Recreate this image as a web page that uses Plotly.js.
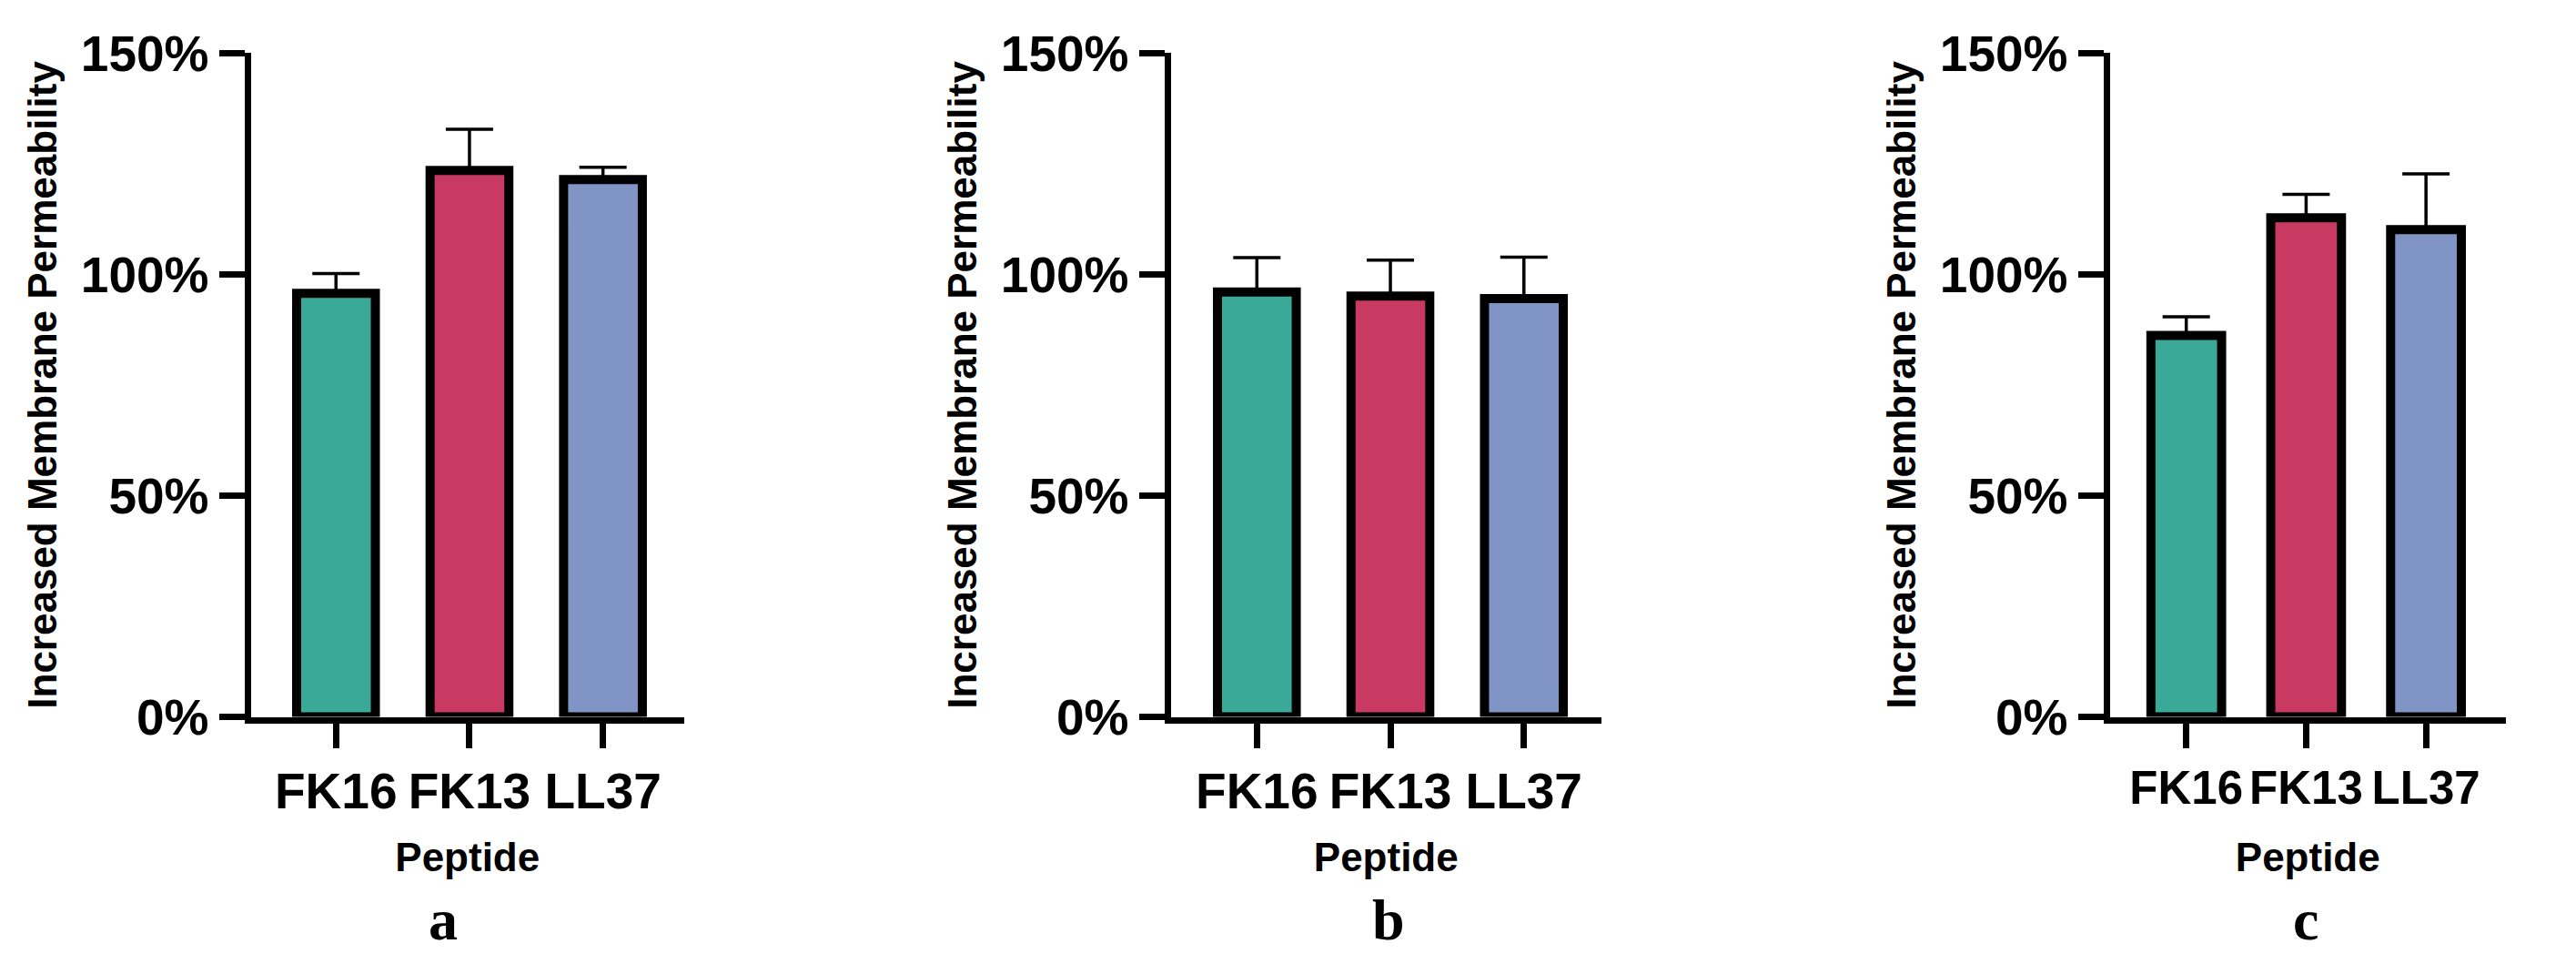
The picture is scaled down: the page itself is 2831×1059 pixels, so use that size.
<!DOCTYPE html>
<html>
<head>
<meta charset="utf-8">
<script src="https://cdn.plot.ly/plotly-3.0.1.min.js"></script>
<style>html,body{margin:0;padding:0;background:#fff;}#chart{width:2831px;height:1059px;}</style>
</head>
<body>
<div id="chart"></div>
<script>
// ---- data ----
const peptides = ['FK16', 'FK13', 'LL37'];
const meanA = [95.7, 123.5, 121.4];
const errA  = [4.5, 9.3, 2.8];
const meanB = [96.0, 95.1, 94.5];
const errB  = [7.8, 8.1, 9.4];
const meanC = [86.2, 112.8, 110.1];
const errC  = [4.2, 5.3, 12.6];
const barColors = ['#3BA997', '#C93A63', '#8095C5'];
const yTickVals = [0, 50, 100, 150];
const yTickText = ['0%', '50%', '100%', '150%'];
const panelLabels = ['a', 'b', 'c'];
const yTitle = 'Increased Membrane Permeability';
const xTitle = 'Peptide';

// ---- layout helpers ----
const W = 2831, H = 1059;
const SANS = 'Liberation Sans, Arial, sans-serif';
const panels = [
  {mean: meanA, err: errA, dom: [275.5, 752], range: [-0.639, 2.609], xfs: 55, so: 30, lab: 487},
  {mean: meanB, err: errB, dom: [1286.5, 1760], range: [-0.646, 2.581], xfs: 55, so: 30, lab: 1526},
  {mean: meanC, err: errC, dom: [2318.5, 2754], range: [-0.639, 2.667], xfs: 51, so: 36, lab: 2534}
];
const yDom = [1 - 787.5 / H, 1 - 58.3 / H];

const traces = [];
const layout = {
  width: W, height: H,
  margin: {l: 0, r: 0, t: 0, b: 0},
  paper_bgcolor: '#ffffff', plot_bgcolor: '#ffffff',
  showlegend: false,
  annotations: []
};

panels.forEach((p, i) => {
  const n = i === 0 ? '' : String(i + 1);
  traces.push({
    type: 'bar',
    x: peptides,
    y: p.mean,
    xaxis: 'x' + n, yaxis: 'y' + n,
    width: 0.59,
    marker: {color: barColors, line: {color: '#000', width: 10}},
    error_y: {type: 'data', symmetric: false, array: p.err,
              arrayminus: p.err.map(() => 0),
              color: '#000', thickness: 3.5, width: 26},
    hoverinfo: 'x+y'
  });
  layout['xaxis' + n] = {
    domain: [p.dom[0] / W, p.dom[1] / W],
    anchor: 'y' + n,
    type: 'category',
    range: p.range,
    showline: true, linecolor: '#000', linewidth: 7,
    ticks: 'outside', ticklen: 27, tickwidth: 7, tickcolor: '#000',
    tickangle: 0,
    showgrid: false, zeroline: false,
    tickfont: {family: SANS, size: p.xfs, color: '#000', weight: 'bold'},
    title: {text: xTitle, standoff: p.so,
            font: {family: SANS, size: 44, color: '#000', weight: 'bold'}},
    fixedrange: true
  };
  layout['yaxis' + n] = {
    domain: yDom,
    anchor: 'x' + n,
    range: [0, 150],
    tickvals: yTickVals, ticktext: yTickText,
    showline: true, linecolor: '#000', linewidth: 7,
    ticks: 'outside', ticklen: 28, tickwidth: 7, tickcolor: '#000',
    showgrid: false, zeroline: false,
    tickfont: {family: SANS, size: 55, color: '#000', weight: 'bold'},
    title: {text: yTitle, standoff: 15,
            font: {family: SANS, size: 44, color: '#000', weight: 'bold'}},
    fixedrange: true
  };
  layout.annotations.push({
    text: panelLabels[i], showarrow: false,
    xref: 'paper', yref: 'paper',
    x: p.lab / W, y: 1 - 1010 / H,
    xanchor: 'center', yanchor: 'middle',
    font: {family: 'Liberation Serif, Times New Roman, serif', size: 64, color: '#000', weight: 'bold'}
  });
});

Plotly.newPlot('chart', traces, layout, {displayModeBar: false, staticPlot: true});
</script>
</body>
</html>
